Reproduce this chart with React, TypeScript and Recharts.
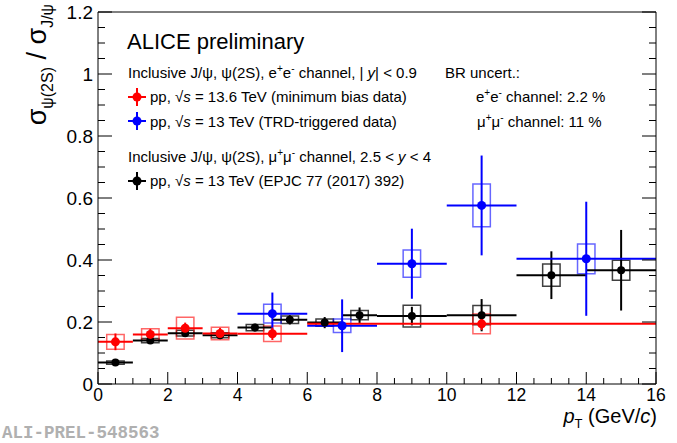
import React from "react";
import {
  ComposedChart,
  Scatter,
  XAxis,
  YAxis,
  ErrorBar,
  ReferenceArea,
} from "recharts";

const FONT = "'Liberation Sans', Arial, Helvetica, sans-serif";

// pp 13.6 TeV, e+e- channel (minimum bias)
const redPt = [0.5, 1.5, 2.5, 3.5, 5, 11];
const redPtHalf = [0.5, 0.5, 0.5, 0.5, 1, 5];
const redRatio = [0.136, 0.16, 0.18, 0.163, 0.162, 0.194];
const redStat = [0.027, 0.018, 0.018, 0.018, 0.02, 0.02];
const redSyst = [0.024, 0.018, 0.035, 0.02, 0.025, 0.032];

// pp 13 TeV, e+e- channel (TRD-triggered)
const bluePt = [5, 7, 9, 11, 14];
const bluePtHalf = [1, 1, 1, 1, 2];
const blueRatio = [0.227, 0.188, 0.388, 0.576, 0.404];
const blueStat = [0.068, 0.085, 0.113, 0.161, 0.184];
const blueSyst = [0.03, 0.022, 0.044, 0.069, 0.048];

// pp 13 TeV, mu+mu- channel (EPJC 77 (2017) 392)
const blackPt = [0.5, 1.5, 2.5, 3.5, 4.5, 5.5, 6.5, 7.5, 9, 11, 13, 15];
const blackPtHalf = [0.5, 0.5, 0.5, 0.5, 0.5, 0.5, 0.5, 0.5, 1, 1, 1, 1];
const blackRatio = [0.069, 0.14, 0.164, 0.157, 0.182, 0.207, 0.198, 0.222, 0.219, 0.222, 0.351, 0.367];
const blackStat = [0.006, 0.008, 0.01, 0.012, 0.012, 0.015, 0.018, 0.025, 0.03, 0.052, 0.077, 0.13];
const blackSyst = [0.005, 0.007, 0.009, 0.008, 0.01, 0.012, 0.012, 0.015, 0.035, 0.031, 0.036, 0.032];

const xTicks = [
  0, 0.5, 1, 1.5, 2, 2.5, 3, 3.5, 4, 4.5, 5, 5.5, 6, 6.5, 7, 7.5, 8, 8.5, 9, 9.5,
  10, 10.5, 11, 11.5, 12, 12.5, 13, 13.5, 14, 14.5, 15, 15.5, 16,
];
const xMajor = [0, 2, 4, 6, 8, 10, 12, 14, 16];
const yTicks = [
  0, 0.05, 0.1, 0.15, 0.2, 0.25, 0.3, 0.35, 0.4, 0.45, 0.5, 0.55, 0.6, 0.65, 0.7,
  0.75, 0.8, 0.85, 0.9, 0.95, 1, 1.05, 1.1, 1.15, 1.2,
];
const yMajor = [0, 0.2, 0.4, 0.6, 0.8, 1, 1.2];

const BOX_HALF = 0.25; // syst box half width in pT

type Pt = { x: number; xerr: number; y: number; stat: number; syst: number };

const build = (pt: number[], half: number[], r: number[], st: number[], sy: number[]): Pt[] =>
  pt.map((x, i) => ({ x, xerr: half[i], y: r[i], stat: st[i], syst: sy[i] }));

const series = [
  { key: "black", color: "#000000", r: 4, data: build(blackPt, blackPtHalf, blackRatio, blackStat, blackSyst) },
  { key: "blue", color: "#0000ff", r: 4.5, data: build(bluePt, bluePtHalf, blueRatio, blueStat, blueSyst) },
  { key: "red", color: "#ff0000", r: 4.5, data: build(redPt, redPtHalf, redRatio, redStat, redSyst) },
];

const isMajor = (list: number[], v: number) => list.some((m) => Math.abs(m - v) < 1e-6);

const BottomTick = (p: any) => {
  const v = p.payload.value;
  const major = isMajor(xMajor, v);
  return (
    <g>
      <line x1={p.x} x2={p.x} y1={p.y} y2={p.y - (major ? 12 : 6)} stroke="#000" />
      {major && (
        <text x={p.x} y={p.y + 17} textAnchor="middle" fontSize={17.5} fontFamily={FONT} fill="#000">
          {v}
        </text>
      )}
    </g>
  );
};

const TopTick = (p: any) => {
  const major = isMajor(xMajor, p.payload.value);
  return <line x1={p.x} x2={p.x} y1={p.y} y2={p.y + (major ? 12 : 6)} stroke="#000" />;
};

const LeftTick = (p: any) => {
  const v = p.payload.value;
  const major = isMajor(yMajor, v);
  return (
    <g>
      <line x1={p.x} x2={p.x + (major ? 14 : 7)} y1={p.y} y2={p.y} stroke="#000" />
      {major && (
        <text x={p.x - 5} y={p.y + 7} textAnchor="end" fontSize={19} fontFamily={FONT} fill="#000">
          {v}
        </text>
      )}
    </g>
  );
};

const RightTick = (p: any) => {
  const major = isMajor(yMajor, p.payload.value);
  return <line x1={p.x} x2={p.x - (major ? 14 : 7)} y1={p.y} y2={p.y} stroke="#000" />;
};

const Sup = ({ children }: { children: string }) => (
  <tspan dy={-6} fontSize={10}>
    {children}
  </tspan>
);

const Marker = ({ cx, cy, color }: { cx: number; cy: number; color: string }) => (
  <g>
    <line x1={cx - 9} x2={cx + 9} y1={cy} y2={cy} stroke={color} strokeWidth={2} />
    <line x1={cx} x2={cx} y1={cy - 9} y2={cy + 9} stroke={color} strokeWidth={2} />
    <circle cx={cx} cy={cy} r={4.5} fill={color} />
  </g>
);

const Overlay = () => (
  <svg width={677} height={443} style={{ position: "absolute", left: 0, top: 0, pointerEvents: "none" }}>
    <g fontFamily={FONT} fill="#000">
      <text x={127} y={49} fontSize={22}>ALICE preliminary</text>
      <text x={128} y={77.5} fontSize={15}>
        Inclusive J/ψ, ψ(2S), e<Sup>+</Sup><tspan dy={6}>e</tspan><Sup>-</Sup>
        <tspan dy={6}> channel, | </tspan>
        <tspan fontStyle="italic">y</tspan>| &lt; 0.9
      </text>
      <text x={445} y={77.5} fontSize={15}>BR uncert.:</text>
      <Marker cx={137} cy={97} color="#ff0000" />
      <text x={150} y={102} fontSize={15}>
        pp, √<tspan fontStyle="italic">s</tspan> = 13.6 TeV (minimum bias data)
      </text>
      <text x={476} y={102} fontSize={15}>
        e<Sup>+</Sup><tspan dy={6}>e</tspan><Sup>-</Sup><tspan dy={6}> channel: 2.2 %</tspan>
      </text>
      <Marker cx={137} cy={121} color="#0000ff" />
      <text x={150} y={126.5} fontSize={15}>
        pp, √<tspan fontStyle="italic">s</tspan> = 13 TeV (TRD-triggered data)
      </text>
      <text x={477} y={126.5} fontSize={15}>
        μ<Sup>+</Sup><tspan dy={6}>μ</tspan><Sup>-</Sup><tspan dy={6}> channel: 11 %</tspan>
      </text>
      <text x={128} y={162} fontSize={15}>
        Inclusive J/ψ, ψ(2S), μ<Sup>+</Sup><tspan dy={6}>μ</tspan><Sup>-</Sup>
        <tspan dy={6}> channel, 2.5 &lt; </tspan>
        <tspan fontStyle="italic">y</tspan> &lt; 4
      </text>
      <Marker cx={137} cy={181} color="#000000" />
      <text x={150} y={186} fontSize={15}>
        pp, √<tspan fontStyle="italic">s</tspan> = 13 TeV (EPJC 77 (2017) 392)
      </text>

      <text transform="translate(46,4) rotate(-90)" textAnchor="end" fontSize={27}>
        σ<tspan dy={7} fontSize={16}>ψ(2S)</tspan>
        <tspan dy={-7}> / σ</tspan>
        <tspan dy={7} fontSize={16}>J/ψ</tspan>
      </text>

      <text x={657} y={423} textAnchor="end" fontSize={20}>
        <tspan fontStyle="italic">p</tspan>
        <tspan dy={5} fontSize={13}>T</tspan>
        <tspan dy={-5}> (GeV/</tspan>
        <tspan fontStyle="italic">c</tspan>)
      </text>

      <text x={2} y={438} fontSize={17.5} fontWeight="bold" fontFamily="'Liberation Mono', monospace" fill="#b0b0b0">
        ALI-PREL-548563
      </text>
    </g>
  </svg>
);

export default function App() {
  return (
    <div style={{ position: "absolute", left: 0, top: 0, width: 677, height: 443, background: "#fff" }}>
      <ComposedChart width={677} height={443} margin={{ top: 11, right: 20, bottom: 29, left: 58 }}>
        <XAxis
          dataKey="x"
          type="number"
          domain={[0, 16]}
          ticks={xTicks}
          interval={0}
          allowDataOverflow
          height={30}
          tickSize={0}
          tickMargin={0}
          tickLine={false}
          tick={BottomTick}
          axisLine={{ stroke: "#000" }}
        />
        <XAxis
          xAxisId="top"
          orientation="top"
          type="number"
          domain={[0, 16]}
          ticks={xTicks}
          interval={0}
          allowDataOverflow
          height={1}
          tickSize={0}
          tickMargin={0}
          tickLine={false}
          tick={TopTick}
          axisLine={{ stroke: "#000" }}
        />
        <YAxis
          dataKey="y"
          type="number"
          domain={[0, 1.2]}
          ticks={yTicks}
          interval={0}
          allowDataOverflow
          width={40}
          tickSize={0}
          tickMargin={0}
          tickLine={false}
          tick={LeftTick}
          axisLine={{ stroke: "#000" }}
        />
        <YAxis
          yAxisId="right"
          orientation="right"
          type="number"
          domain={[0, 1.2]}
          ticks={yTicks}
          interval={0}
          allowDataOverflow
          width={1}
          tickSize={0}
          tickMargin={0}
          tickLine={false}
          tick={RightTick}
          axisLine={{ stroke: "#000" }}
        />
        {series.map((s) =>
          s.data.map((d, i) => (
            <ReferenceArea
              key={`${s.key}-box-${i}`}
              x1={d.x - BOX_HALF}
              x2={d.x + BOX_HALF}
              y1={d.y - d.syst}
              y2={d.y + d.syst}
              fill="none"
              fillOpacity={0}
              stroke={s.color}
              strokeOpacity={s.key === "black" ? 0.75 : 0.6}
              strokeWidth={1.5}
            />
          ))
        )}
        {series.map((s) => (
          <Scatter
            key={s.key}
            data={s.data}
            dataKey="y"
            isAnimationActive={false}
            shape={(p: any) => <circle cx={p.cx} cy={p.cy} r={s.r} fill={s.color} />}
          >
            <ErrorBar dataKey="xerr" direction="x" width={0} stroke={s.color} strokeWidth={2} />
            <ErrorBar dataKey="stat" direction="y" width={0} stroke={s.color} strokeWidth={2} />
          </Scatter>
        ))}
      </ComposedChart>
      <Overlay />
    </div>
  );
}
